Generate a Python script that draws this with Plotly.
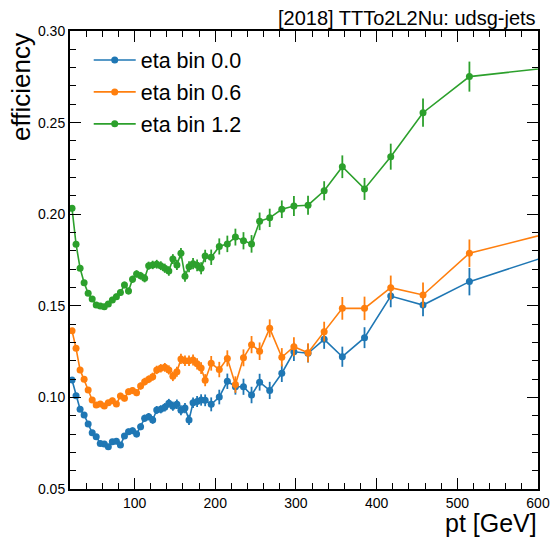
import plotly.graph_objects as go

# pt bin positions (GeV)
pt = [22.5, 27.5, 32.5, 37.5, 42.5, 47.5, 52.5, 57.5, 62.5, 67.5,
      72.5, 77.5, 82.5, 87.5, 92.5, 97.5, 102.5, 107.5, 112.5, 117.5,
      122.5, 127.5, 132.5, 137.5, 142.5, 147.5, 152.5, 157.5, 162.5, 167.5,
      172.5, 177.5, 182.5, 187.5, 195, 205, 215, 225, 235, 245,
      255, 267.5, 282.5, 297.5, 315, 335, 357.5, 385, 417.5, 457.5,
      515, 625]

eff_eta00 = [0.1095, 0.1009, 0.0935, 0.0904, 0.0855, 0.0807, 0.0785, 0.0749, 0.0746, 0.0731,
             0.0758, 0.0760, 0.0740, 0.0789, 0.0813, 0.0818, 0.0800, 0.0840, 0.0886, 0.0895,
             0.0877, 0.0931, 0.0935, 0.0946, 0.0968, 0.0952, 0.0962, 0.0930, 0.0942, 0.0877,
             0.0971, 0.0977, 0.0986, 0.0984, 0.0962, 0.1002, 0.1088, 0.1058, 0.1058, 0.1013,
             0.1083, 0.1038, 0.1132, 0.1249, 0.1241, 0.1317, 0.1222, 0.1326, 0.1553, 0.1504,
             0.1632, 0.1790]

eff_eta06 = [0.1364, 0.1268, 0.1150, 0.1099, 0.1040, 0.0986, 0.0959, 0.0964, 0.0953, 0.0971,
             0.0982, 0.0964, 0.1008, 0.0995, 0.1031, 0.1037, 0.1026, 0.1062, 0.1086, 0.1099,
             0.1113, 0.1150, 0.1159, 0.1164, 0.1150, 0.1115, 0.1140, 0.1210, 0.1200, 0.1200,
             0.1204, 0.1183, 0.1160, 0.1094, 0.1186, 0.1152, 0.1213, 0.1070, 0.1216, 0.1288,
             0.1252, 0.1377, 0.1219, 0.1277, 0.1244, 0.1359, 0.1486, 0.1486, 0.1599, 0.1559,
             0.1787, 0.1909]

eff_eta12 = [0.2032, 0.1836, 0.1705, 0.1626, 0.1568, 0.1537, 0.1504, 0.1499, 0.1495, 0.1510,
             0.1532, 0.1550, 0.1572, 0.1614, 0.1581, 0.1645, 0.1674, 0.1664, 0.1650, 0.1719,
             0.1723, 0.1727, 0.1719, 0.1705, 0.1690, 0.1755, 0.1723, 0.1787, 0.1661, 0.1713,
             0.1730, 0.1721, 0.1705, 0.1772, 0.1765, 0.1824, 0.1838, 0.1875, 0.1855, 0.1838,
             0.1961, 0.1980, 0.2027, 0.2045, 0.2049, 0.2128, 0.2259, 0.2138, 0.2314, 0.2554,
             0.2751, 0.2805]

err_eta00 = [0.0012, 0.0012, 0.0012, 0.0012, 0.0012, 0.0012, 0.0013, 0.0013, 0.0014, 0.0014,
             0.0015, 0.0015, 0.0016, 0.0016, 0.0017, 0.0018, 0.0018, 0.0019, 0.0020, 0.0020,
             0.0021, 0.0022, 0.0022, 0.0023, 0.0024, 0.0025, 0.0026, 0.0027, 0.0028, 0.0028,
             0.0029, 0.0030, 0.0031, 0.0032, 0.0038, 0.0040, 0.0042, 0.0043, 0.0044, 0.0045,
             0.0046, 0.0047, 0.0048, 0.0050, 0.0050, 0.0052, 0.0055, 0.0057, 0.0061, 0.0061,
             0.0075, 0.0080]

err_eta06 = [0.0013, 0.0013, 0.0013, 0.0013, 0.0013, 0.0013, 0.0014, 0.0014, 0.0015, 0.0015,
             0.0016, 0.0016, 0.0017, 0.0017, 0.0018, 0.0019, 0.0019, 0.0020, 0.0021, 0.0021,
             0.0022, 0.0023, 0.0023, 0.0024, 0.0025, 0.0026, 0.0027, 0.0028, 0.0029, 0.0029,
             0.0030, 0.0031, 0.0032, 0.0033, 0.0040, 0.0042, 0.0044, 0.0045, 0.0046, 0.0047,
             0.0048, 0.0049, 0.0050, 0.0052, 0.0052, 0.0054, 0.0062, 0.0064, 0.0066, 0.0068,
             0.0075, 0.0080]

err_eta12 = [0.0014, 0.0014, 0.0014, 0.0014, 0.0014, 0.0014, 0.0015, 0.0015, 0.0016, 0.0016,
             0.0017, 0.0017, 0.0018, 0.0018, 0.0019, 0.0020, 0.0020, 0.0021, 0.0022, 0.0022,
             0.0023, 0.0024, 0.0024, 0.0025, 0.0026, 0.0027, 0.0028, 0.0029, 0.0030, 0.0030,
             0.0031, 0.0032, 0.0033, 0.0034, 0.0042, 0.0044, 0.0045, 0.0046, 0.0047, 0.0048,
             0.0048, 0.0050, 0.0048, 0.0055, 0.0052, 0.0052, 0.0062, 0.0060, 0.0071, 0.0077,
             0.0082, 0.0085]

series_names = ["eta bin 0.0", "eta bin 0.6", "eta bin 1.2"]
series_vals = [eff_eta00, eff_eta06, eff_eta12]
series_errs = [err_eta00, err_eta06, err_eta12]
colors = ["#1f77b4", "#ff7f0e", "#2ca02c"]

x_ticks = [100, 200, 300, 400, 500, 600]
y_ticks = [0.05, 0.10, 0.15, 0.20, 0.25, 0.30]

FONT = "Liberation Sans, Arial, Helvetica, sans-serif"

fig = go.Figure()
for i, (name, vals, errs, col) in enumerate(zip(series_names, series_vals, series_errs, colors)):
    fig.add_trace(go.Scatter(
        x=pt, y=vals, name=name, mode="lines+markers", legendgroup="g%d" % i,
        line=dict(color=col, width=1.6),
        marker=dict(color=col, size=7),
        error_y=dict(type="data", array=errs, visible=True, color=col, thickness=1.8, width=0),
        cliponaxis=True,
    ))

axis_common = dict(
    showline=True, linecolor="black", linewidth=2, mirror="allticks",
    ticks="inside", ticklen=11, tickwidth=1.2, tickcolor="black",
    showgrid=False, zeroline=False, automargin=False,
    tickfont=dict(family=FONT, size=14, color="black"),
)

fig.update_xaxes(
    range=[20, 600], tickvals=x_ticks, ticktext=[str(v) for v in x_ticks],
    minor=dict(ticks="inside", ticklen=6, tickwidth=1, tickcolor="black", dtick=20, tick0=0),
    **axis_common,
)
fig.update_yaxes(
    range=[0.05, 0.30], tickvals=y_ticks, ticktext=["%.2f" % v for v in y_ticks],
    minor=dict(ticks="inside", ticklen=6, tickwidth=1, tickcolor="black", dtick=0.01, tick0=0.0),
    **axis_common,
)

fig.update_layout(
    width=551, height=539, autosize=False,
    margin=dict(l=70, r=13, t=31, b=50, autoexpand=False),
    paper_bgcolor="white", plot_bgcolor="white",
    font=dict(family=FONT, color="black"),
    showlegend=True,
    legend=dict(x=0.04, y=0.9815, xanchor="left", yanchor="top",
                bgcolor="rgba(0,0,0,0)", font=dict(family=FONT, size=21.5, color="black"),
                itemwidth=42, tracegroupgap=1),
    annotations=[
        dict(text="[2018] TTTo2L2Nu: udsg-jets", xref="paper", yref="paper",
             x=1.0, y=1.0, xanchor="right", yanchor="bottom", yshift=0, showarrow=False,
             font=dict(family=FONT, size=20, color="black")),
        dict(text="efficiency", xref="paper", yref="paper", textangle=-90,
             x=0, y=1.0, xanchor="right", yanchor="top", xshift=-32, showarrow=False,
             font=dict(family=FONT, size=26, color="black")),
        dict(text="pt [GeV]", xref="paper", yref="paper",
             x=1.0, y=0, xanchor="right", yanchor="top", yshift=-19, borderpad=0,
             showarrow=False, font=dict(family=FONT, size=25, color="black")),
    ],
)

fig.write_html("out.html")
